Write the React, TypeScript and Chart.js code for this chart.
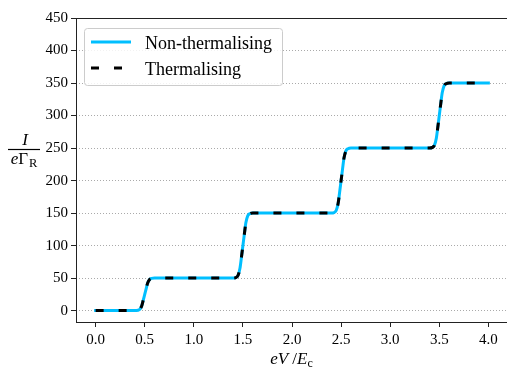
import React, { useEffect, useRef } from "react";
import { Chart, registerables } from "chart.js";

Chart.register(...registerables);

// ---- data ----
const voltage = [
  0.0, 0.25, 0.4, 0.43, 0.45, 0.47, 0.485, 0.5, 0.515, 0.53, 0.55, 0.57, 0.6,
  1.0, 1.4, 1.43, 1.45, 1.47, 1.485, 1.5, 1.515, 1.53, 1.55, 1.57, 1.6,
  2.0, 2.4, 2.43, 2.45, 2.47, 2.485, 2.5, 2.515, 2.53, 2.55, 2.57, 2.6,
  3.0, 3.4, 3.43, 3.45, 3.47, 3.485, 3.5, 3.515, 3.53, 3.55, 3.57, 3.6,
  4.0,
];
const nonThermalCurrent = [
  0, 0, 0, 0.5, 2, 7.5, 16, 25, 34, 42.5, 48, 49.5, 50,
  50, 50, 51, 54, 65, 82, 100, 118, 135, 146, 149, 150,
  150, 150, 151, 154, 165, 182, 200, 218, 235, 246, 249, 250,
  250, 250, 251, 254, 265, 282, 300, 318, 335, 346, 349, 350,
  350,
];
const thermalCurrent = [
  0, 0, 0, 0.5, 2, 7.5, 16, 25, 34, 42.5, 48, 49.5, 50,
  50, 50, 51, 54, 65, 82, 100, 118, 135, 146, 149, 150,
  150, 150, 151, 154, 165, 182, 200, 218, 235, 246, 249, 250,
  250, 250, 251, 254, 265, 282, 300, 318, 335, 346, 349, 350,
  350,
];
const xTickValues = [0, 0.5, 1, 1.5, 2, 2.5, 3, 3.5, 4];
const xTickLabels = ["0.0", "0.5", "1.0", "1.5", "2.0", "2.5", "3.0", "3.5", "4.0"];
const yTickValues = [0, 50, 100, 150, 200, 250, 300, 350, 400, 450];
const yTickLabels = ["0", "50", "100", "150", "200", "250", "300", "350", "400", "450"];
const seriesLabels = ["Non-thermalising", "Thermalising"];

const SERIF = '"Liberation Serif", "Times New Roman", serif';
const CYAN = "#00BFFF";
const DASH = [8, 15];

const framePlugin = {
  id: "frame",
  afterDatasetsDraw(chart: any) {
    const { ctx, chartArea } = chart;
    const { left, top, right, bottom } = chartArea;
    ctx.save();
    ctx.strokeStyle = "#222";
    ctx.lineWidth = 1;
    ctx.setLineDash([]);
    ctx.strokeRect(left + 0.5, top + 0.5, right - left, bottom - top);
    ctx.restore();
  },
};

const legendPlugin = {
  id: "customLegend",
  afterDraw(chart: any) {
    const { ctx } = chart;
    const ds = chart.data.datasets;
    const x0 = 84.5, y0 = 28.5, w = 198, h = 57, r = 3;
    ctx.save();
    ctx.beginPath();
    ctx.roundRect(x0, y0, w, h, r);
    ctx.fillStyle = "rgba(255,255,255,0.85)";
    ctx.fill();
    ctx.strokeStyle = "#cccccc";
    ctx.lineWidth = 1;
    ctx.stroke();
    const rows = [42, 68];
    ds.forEach((d: any, i: number) => {
      const y = rows[i];
      ctx.beginPath();
      ctx.setLineDash(d.borderDash || []);
      ctx.lineDashOffset = 0;
      ctx.lineCap = d.borderCapStyle === "square" ? "square" : "butt";
      ctx.strokeStyle = d.borderColor;
      ctx.lineWidth = d.borderWidth;
      ctx.moveTo(d.borderCapStyle === "square" ? 92.5 : 91, y);
      ctx.lineTo(d.borderCapStyle === "square" ? 129.5 : 131, y);
      ctx.stroke();
      ctx.setLineDash([]);
      ctx.fillStyle = "#000";
      ctx.font = `18px ${SERIF}`;
      ctx.textBaseline = "alphabetic";
      ctx.textAlign = "left";
      ctx.fillText(d.label, 145, y + 6.5);
    });
    ctx.restore();
  },
};

const axisTitlePlugin = {
  id: "axisTitles",
  afterDraw(chart: any) {
    const { ctx, chartArea } = chart;
    ctx.save();
    ctx.fillStyle = "#000";
    ctx.textBaseline = "alphabetic";
    ctx.textAlign = "left";
    // x title: eV / E_c
    const it = `italic 17px ${SERIF}`;
    const rm = `17px ${SERIF}`;
    const sub = `12px ${SERIF}`;
    const parts: [string, string, number][] = [
      ["e", it, 0],
      ["V", it, 0],
      [" /", rm, 0],
      ["E", it, 0],
      ["c", sub, 3],
    ];
    let total = 0;
    const widths = parts.map(([t, f]) => {
      ctx.font = f;
      const wd = ctx.measureText(t).width;
      total += wd;
      return wd;
    });
    const cx = (chartArea.left + 507) / 2;
    let x = cx - total / 2;
    const base = 364;
    parts.forEach(([t, f, dy], i) => {
      ctx.font = f;
      ctx.fillText(t, x, base + dy);
      x += widths[i];
    });

    // y title: fraction I / (e Γ_R)
    const fcx = 24;
    ctx.font = `italic 17px ${SERIF}`;
    ctx.textAlign = "center";
    ctx.fillText("I", fcx + 1, 145);
    ctx.beginPath();
    ctx.strokeStyle = "#000";
    ctx.lineWidth = 1.2;
    ctx.moveTo(8, 149.5);
    ctx.lineTo(40, 149.5);
    ctx.stroke();
    ctx.textAlign = "left";
    const dparts: [string, string, number][] = [
      ["e", `italic 17px ${SERIF}`, 0],
      ["Γ", `17px ${SERIF}`, 0],
      ["R", `12.5px ${SERIF}`, 3],
    ];
    let dtot = 0;
    const dw = dparts.map(([t, f]) => {
      ctx.font = f;
      const wd = ctx.measureText(t).width;
      dtot += wd;
      return wd;
    });
    let dx = fcx - (dtot + 1) / 2;
    dparts.forEach(([t, f, dy], i) => {
      ctx.font = f;
      ctx.fillText(t, dx, 164 + dy);
      dx += dw[i] + (i === 1 ? 1 : 0);
    });
    ctx.restore();
  },
};

export default function App() {
  const canvasRef = useRef<HTMLCanvasElement | null>(null);

  useEffect(() => {
    const canvas = canvasRef.current;
    if (!canvas) return;
    const chart = new Chart(canvas, {
      type: "line",
      data: {
        datasets: [
          {
            label: seriesLabels[0],
            data: voltage.map((v, i) => ({ x: v, y: nonThermalCurrent[i] })),
            borderColor: CYAN,
            borderWidth: 3,
            borderCapStyle: "square",
            pointRadius: 0,
            cubicInterpolationMode: "monotone",
            fill: false,
            order: 2,
          },
          {
            label: seriesLabels[1],
            data: voltage.map((v, i) => ({ x: v, y: thermalCurrent[i] })),
            borderColor: "#000000",
            borderWidth: 3,
            borderDash: DASH,
            borderCapStyle: "butt",
            pointRadius: 0,
            cubicInterpolationMode: "monotone",
            fill: false,
            order: 1,
          },
        ],
      },
      options: {
        animation: false,
        responsive: false,
        devicePixelRatio: 1,
        layout: { padding: { top: 18, right: 4, left: 0, bottom: 0 } },
        plugins: {
          legend: { display: false },
          tooltip: { enabled: false },
        },
        scales: {
          x: {
            type: "linear",
            min: -0.2,
            max: 4.2,
            afterBuildTicks: (scale: any) => {
              scale.ticks = xTickValues.map((v) => ({ value: v }));
            },
            afterFit: (scale: any) => {
              scale.height = 49;
            },
            ticks: {
              color: "#000",
              font: { family: SERIF, size: 15 },
              padding: 4,
              maxRotation: 0,
              autoSkip: false,
              callback: (_v: any, i: number) => xTickLabels[i],
            },
            grid: {
              display: true,
              drawOnChartArea: false,
              drawTicks: true,
              tickLength: 5,
              tickColor: "#222",
              tickWidth: 1,
            },
            border: { display: false },
          },
          y: {
            type: "linear",
            min: -17.5,
            max: 450,
            afterBuildTicks: (scale: any) => {
              scale.ticks = yTickValues.map((v) => ({ value: v }));
            },
            afterFit: (scale: any) => {
              scale.width = 76;
            },
            ticks: {
              color: "#000",
              font: { family: SERIF, size: 15 },
              padding: 3,
              autoSkip: false,
              callback: (_v: any, i: number) => yTickLabels[i],
            },
            grid: {
              display: true,
              drawOnChartArea: true,
              drawTicks: true,
              tickLength: 5,
              color: "#aaaaaa",
              lineWidth: 1,
              tickColor: "#222",
              tickWidth: 1,
              tickBorderDash: [1, 0],
            },
            border: { display: false, dash: [1, 2] },
          },
        },
      },
      plugins: [framePlugin, legendPlugin, axisTitlePlugin],
    } as any);
    return () => chart.destroy();
  }, []);

  return (
    <div
      style={{
        position: "fixed",
        left: 0,
        top: 0,
        width: 507,
        height: 371,
        overflow: "hidden",
        background: "#fff",
      }}
    >
      <canvas ref={canvasRef} width={512} height={371} style={{ display: "block" }} />
    </div>
  );
}
